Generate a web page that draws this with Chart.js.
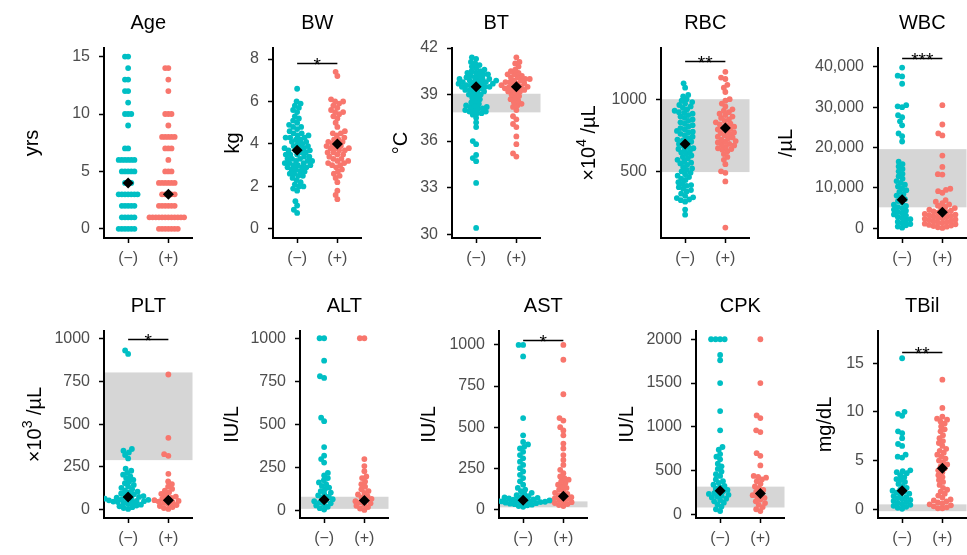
<!DOCTYPE html>
<html>
<head>
<meta charset="utf-8">
<script src="https://cdn.jsdelivr.net/npm/chart.js@4.4.0/dist/chart.umd.min.js"></script>
<style>
  body { margin: 0; background: #fff; }
  #wrap { position: relative; width: 967px; height: 555px; overflow: hidden; }
  #wrap canvas { position: absolute; }
</style>
</head>
<body>
<div id="wrap"></div>
<script>
// values, one array per group
const ageNeg = [0,0,0,0,0,0,1,1,1,1,1,2,2,2,2,2,3,3,3,3,3,3,3,4,4,4,5,5,5,5,5,6,6,6,6,6,6,7,7,9,10,10,10,11,12,12,13,13,14,15,15];
const agePos = [0,0,0,0,0,0,0,1,1,1,1,1,1,1,1,1,1,1,1,2,2,2,2,2,2,3,3,3,3,3,4,4,4,4,4,4,5,5,5,6,7,7,7,8,8,8,8,8,9,10,10,10,12,13,14,14];

const bwNeg = [0.75,0.9,1.1,1.3,1.8,1.9,2.0,2.0,2.1,2.2,2.3,2.4,2.5,2.5,2.6,2.6,2.7,2.7,2.8,2.8,2.9,2.9,2.9,3.0,3.0,3.0,3.1,3.1,3.1,3.2,3.2,3.2,3.3,3.3,3.3,3.4,3.4,3.5,3.5,3.5,3.6,3.6,3.7,3.7,3.7,3.8,3.8,3.8,3.9,3.9,4.0,4.0,4.1,4.1,4.2,4.2,4.3,4.3,4.3,4.4,4.4,4.5,4.5,4.6,4.7,4.8,4.8,4.9,5.0,5.1,5.2,5.3,5.5,5.6,5.7,5.8,5.9,6.0,6.6];
const bwPos = [1.4,1.6,1.8,2.2,2.4,2.5,2.6,2.7,2.8,2.9,3.0,3.0,3.1,3.1,3.2,3.2,3.3,3.3,3.4,3.5,3.5,3.6,3.6,3.7,3.7,3.8,3.8,3.8,3.9,3.9,4.0,4.0,4.1,4.1,4.2,4.2,4.3,4.4,4.5,4.5,4.6,4.8,5.0,5.2,5.3,5.4,5.5,5.5,5.6,5.7,5.8,5.9,6.0,6.0,6.1,7.2,7.4];

const btNeg = [30.4,33.3,34.7,34.9,35.1,35.8,36.0,36.9,37.2,37.5,37.7,37.8,37.8,37.9,37.9,38.0,38.0,38.1,38.1,38.2,38.2,38.3,38.3,38.4,38.5,38.6,38.7,38.8,38.9,39.0,39.0,39.1,39.2,39.2,39.3,39.3,39.4,39.4,39.5,39.5,39.5,39.6,39.6,39.6,39.7,39.7,39.7,39.8,39.8,39.8,39.9,39.9,39.9,40.0,40.0,40.0,40.1,40.1,40.2,40.2,40.3,40.3,40.4,40.4,40.5,40.5,40.6,40.7,40.8,40.9,41.0,41.1,41.3,41.4];
const btPos = [35.0,35.2,35.8,36.3,36.9,37.1,37.4,37.6,38.0,38.2,38.3,38.4,38.5,38.6,38.7,38.8,38.9,39.0,39.1,39.2,39.2,39.3,39.3,39.4,39.4,39.5,39.5,39.5,39.6,39.6,39.7,39.7,39.8,39.8,39.9,39.9,40.0,40.0,40.1,40.1,40.2,40.3,40.3,40.4,40.5,40.6,40.8,41.0,41.1,41.4];

const rbcNeg = [200,235,290,300,305,315,320,330,345,360,370,380,390,400,405,415,425,440,450,460,470,480,490,500,510,520,530,545,555,560,570,580,590,600,610,620,630,640,650,655,660,670,680,690,700,705,715,720,730,740,750,760,770,775,780,790,800,810,820,830,840,850,860,870,880,890,900,905,910,920,930,940,950,960,970,980,990,1000,1020,1030,1080,1110];
const rbcPos = [110,430,490,500,550,580,600,620,640,650,655,660,670,680,685,690,700,705,710,720,730,735,740,750,760,765,770,780,790,795,800,810,820,825,830,840,850,860,870,880,890,900,910,920,930,950,970,990,1000,1050,1080,1100,1140,1150,1190];

const wbcNeg = [150,450,750,1050,1350,1650,1950,2250,2550,2850,3150,3450,3750,4050,4350,4650,4950,5250,5550,5850,6300,6750,7200,7650,8100,8550,9000,9450,9900,10350,10800,11250,11700,12300,12900,13500,14100,14700,15300,15900,16500,21500,22800,23500,25500,26500,27500,28000,30000,30200,30500,35800,37600,37800,39800];
const wbcPos = [100,250,400,550,700,850,1000,1150,1300,1450,1600,1750,1900,2050,2200,2350,2500,2650,2800,2950,3100,3250,3400,3550,3700,3850,4000,4200,4400,4600,4800,5000,5300,5600,5900,6200,6600,7000,8800,9200,9500,9800,13300,13400,15200,18000,23000,23500,25700,30500];

const pltNeg = [5,10,15,20,25,30,34,38,42,45,48,50,52,55,58,60,62,65,68,71,75,80,85,90,95,100,106,112,120,128,136,145,155,165,175,185,195,205,215,228,240,300,320,335,345,355,910,930];
const pltPos = [5,10,16,22,28,34,40,44,48,52,56,60,65,70,77,85,93,102,112,122,135,150,165,210,315,325,420,790];

const altNeg = [8,16,24,32,38,44,50,56,62,68,75,82,90,98,106,115,125,135,145,155,165,178,190,205,220,280,300,320,370,520,540,770,780,870,1000,1000];
const altPos = [6,14,22,30,37,44,50,56,63,70,78,86,95,105,115,125,140,155,170,190,200,230,260,300,1000,1000];

const astNeg = [15,20,24,28,31,34,37,40,42,44,46,48,50,52,54,56,58,60,63,66,69,72,75,80,86,92,100,110,120,130,150,170,190,210,230,250,270,290,310,330,350,370,380,395,410,450,555,930,1000,1000];
const astPos = [20,26,32,38,43,48,53,58,63,68,74,80,86,93,100,110,120,130,140,150,160,170,180,190,200,220,240,270,300,330,370,400,450,480,500,540,555,700,910,1000];

const cpkNeg = [40,60,90,115,135,150,165,180,195,205,215,225,235,245,255,265,280,295,310,325,340,360,380,400,440,460,490,520,550,580,630,660,690,740,770,960,1180,1500,1760,1820,2000,2000,2000,2000];
const cpkPos = [40,60,85,110,130,150,170,190,205,220,240,260,280,300,320,350,380,400,420,430,440,560,670,700,940,960,1100,1130,1500,2000];

const tbilNeg = [0.05,0.15,0.25,0.35,0.45,0.55,0.65,0.75,0.85,0.95,1.05,1.15,1.25,1.35,1.5,1.6,1.7,1.8,1.9,2.0,2.2,2.4,2.6,2.8,3.0,3.1,3.3,3.5,3.7,3.8,3.9,4.0,5.3,5.4,5.6,6.5,6.7,7.3,7.8,8.0,9.6,9.8,10.0,15.5];
const tbilPos = [0.1,0.1,0.2,0.3,0.4,0.5,0.6,0.7,0.8,0.9,1.0,1.2,1.4,1.6,1.8,2.0,2.2,2.5,2.8,3.0,3.3,3.5,3.8,4.0,4.2,4.4,4.6,4.8,5.0,5.2,5.4,5.6,5.8,6.0,6.2,6.5,6.8,7.0,7.3,7.6,8.0,8.2,8.5,8.8,9.0,9.2,9.3,9.5,10.4,13.3];

const panelTitles = ["Age", "BW", "BT", "RBC", "WBC", "PLT", "ALT", "AST", "CPK", "TBil"];
const groupLabels = ["(−)", "(+)"];
// unit text: [main, superscript, rest]
const unitParts = [["yrs"], ["kg"], ["°C"], ["×10", "4", " /µL"], ["/µL"], ["×10", "3", " /µL"], ["IU/L"], ["IU/L"], ["IU/L"], ["mg/dL"]];
const negValues = [ageNeg, bwNeg, btNeg, rbcNeg, wbcNeg, pltNeg, altNeg, astNeg, cpkNeg, tbilNeg];
const posValues = [agePos, bwPos, btPos, rbcPos, wbcPos, pltPos, altPos, astPos, cpkPos, tbilPos];
const negCenter = [4, 3.7, 39.5, 690, 7100, 75, 65, 55, 270, 1.9];
const posCenter = [3, 4.0, 39.5, 800, 4000, 55, 60, 80, 240, 4.2];
const bandLow = [null, null, 37.85, 495, 5200, 290, 12, 12, 80, -0.2];
const bandHigh = [null, null, 39.05, 1000, 19600, 802, 82, 48, 318, 0.5];
const sigY = [null, 7.83, null, 1264, 42200, 1000, null, 1030, null, 16.1];
const sigStars = ["", "*", "", "**", "***", "*", "", "*", "", "**"];
const yTicks = [[0,5,10,15], [0,2,4,6,8], [30,33,36,39,42], [500,1000], [0,10000,20000,30000,40000],
  [0,250,500,750,1000], [0,250,500,750,1000], [0,250,500,750,1000], [0,500,1000,1500,2000], [0,5,10,15]];
const yMin = [-0.8, -0.43, 29.75, 38, -2400, -48, -41, -53, -40, -0.9];
const yMax = [15.75, 8.52, 42.0, 1355, 44650, 1044, 1042, 1085, 2094, 18.3];

// layout of the panels (pixels)
const panelLeft = [104, 273, 452, 661, 878, 104, 300, 499, 696, 878];
const yTitleOffset = [-72, -40, -51, -72, -92, -69, -68, -70, -69, -53];
const swarmGap = [3.2, 4.6, 4.6, 4.6, 4.6, 4.6, 4.6, 4.6, 4.6, 4.6];
const PW = 90;       // plot width
const YW = 100;      // room left of the plot
const TOPPAD = 48;   // room above the plot
const XH = 40;       // room under the plot

const FONT = "'Liberation Sans', Arial, sans-serif";
const TEAL = "#00BFC4";
const SALMON = "#F8766D";

// beeswarm offsets (pixels) so the dots do not pile up
function swarmOffsets(values, pxPerY, gap) {
  const order = values.map((v, i) => i).sort((a, b) => values[a] - values[b]);
  const placed = [];
  const offsets = new Array(values.length).fill(0);
  order.forEach((i) => {
    const py = values[i] * pxPerY;
    const near = placed.filter((q) => Math.abs(q.y - py) < gap);
    const cands = [0];
    near.forEach((q) => {
      const dx = Math.sqrt(gap * gap - (q.y - py) ** 2);
      cands.push(q.x - dx, q.x + dx);
    });
    cands.sort((a, b) => Math.abs(a) - Math.abs(b));
    const px = cands.find((c) => near.every((q) => (q.x - c) ** 2 + (q.y - py) ** 2 >= gap * gap - 0.01));
    placed.push({ x: px, y: py });
    offsets[i] = px;
  });
  return offsets;
}

function drawUnit(ctx, parts, x, y) {
  ctx.save();
  ctx.translate(x, y);
  ctx.rotate(-Math.PI / 2);
  ctx.fillStyle = "#000";
  ctx.textBaseline = "middle";
  ctx.textAlign = "left";
  const big = "20px " + FONT;
  const small = "14px " + FONT;
  const fonts = parts.map((p, i) => (i === 1 ? small : big));
  let total = 0;
  parts.forEach((p, i) => { ctx.font = fonts[i]; total += ctx.measureText(p).width; });
  let cx = -total / 2;
  parts.forEach((p, i) => {
    ctx.font = fonts[i];
    ctx.fillText(p, cx, i === 1 ? -7 : 0);
    cx += ctx.measureText(p).width;
  });
  ctx.restore();
}

const wrap = document.getElementById("wrap");

panelTitles.forEach((title, k) => {
  const row = k < 5 ? 0 : 1;
  const T = row === 0 ? 48 : 331;
  const B = row === 0 ? 238 : 518;
  const L = panelLeft[k];
  const W = YW + PW + 4;
  const H = TOPPAD + (B - T) + XH;

  const canvas = document.createElement("canvas");
  canvas.width = W;
  canvas.height = H;
  canvas.style.left = (L - YW) + "px";
  canvas.style.top = (T - TOPPAD) + "px";
  canvas.style.width = W + "px";
  canvas.style.height = H + "px";
  wrap.appendChild(canvas);

  const pxPerY = (B - T) / (yMax[k] - yMin[k]);
  const pxPerX = PW / 2.2;
  const toPoints = (vals, cat) => {
    const off = swarmOffsets(vals, pxPerY, swarmGap[k]);
    return vals.map((v, i) => ({ x: cat + off[i] / pxPerX, y: v }));
  };

  const decor = {
    id: "decor" + k,
    beforeDatasetsDraw(chart) {
      if (bandLow[k] === null) return;
      const { ctx, chartArea: a, scales } = chart;
      const yTop = scales.y.getPixelForValue(bandHigh[k]);
      const yBot = scales.y.getPixelForValue(bandLow[k]);
      ctx.save();
      ctx.fillStyle = "#D6D6D6";
      ctx.fillRect(a.left + 1, yTop, a.right - a.left - 1, yBot - yTop);
      ctx.restore();
    },
    afterDatasetsDraw(chart) {
      const { ctx, scales } = chart;
      if (sigY[k] !== null) {
        const y = Math.round(scales.y.getPixelForValue(sigY[k])) + 0.5;
        const x1 = scales.x.getPixelForValue(1);
        const x2 = scales.x.getPixelForValue(2);
        ctx.save();
        ctx.strokeStyle = "#000";
        ctx.lineWidth = 1.3;
        ctx.beginPath();
        ctx.moveTo(x1, y);
        ctx.lineTo(x2, y);
        ctx.stroke();
        ctx.fillStyle = "#000";
        ctx.font = "19px " + FONT;
        ctx.textAlign = "center";
        ctx.textBaseline = "alphabetic";
        ctx.fillText(sigStars[k], (x1 + x2) / 2, y + 7.5);
        ctx.restore();
      }
    },
    afterDraw(chart) {
      const { ctx, chartArea: a } = chart;
      ctx.save();
      ctx.fillStyle = "#000";
      ctx.font = "20px " + FONT;
      ctx.textAlign = "center";
      ctx.textBaseline = "middle";
      ctx.fillText(title, (a.left + a.right) / 2, a.top - 25);
      ctx.restore();
      drawUnit(ctx, unitParts[k], a.left + yTitleOffset[k], (a.top + a.bottom) / 2);
    },
  };

  const axisGrid = { drawOnChartArea: false, drawTicks: true, tickLength: 5, tickColor: "#000", tickWidth: 1.5 };
  const axisBorder = { display: true, color: "#000", width: 2 };

  new Chart(canvas, {
    type: "scatter",
    data: {
      datasets: [
        {
          data: [{ x: 1, y: negCenter[k] }, { x: 2, y: posCenter[k] }],
          pointStyle: "rectRot",
          pointRadius: 5.5,
          backgroundColor: "#000",
          borderWidth: 0,
        },
        {
          data: toPoints(negValues[k], 1),
          pointRadius: 2.9,
          backgroundColor: TEAL,
          borderWidth: 0,
        },
        {
          data: toPoints(posValues[k], 2),
          pointRadius: 2.9,
          backgroundColor: SALMON,
          borderWidth: 0,
        },
      ],
    },
    options: {
      responsive: false,
      animation: false,
      events: [],
      layout: { padding: { top: TOPPAD, right: 4, left: 0, bottom: 0 } },
      plugins: { legend: { display: false }, tooltip: { enabled: false }, title: { display: false } },
      scales: {
        x: {
          type: "linear",
          min: 0.4,
          max: 2.6,
          afterFit: (s) => { s.height = XH; },
          afterBuildTicks: (s) => { s.ticks = [{ value: 1 }, { value: 2 }]; },
          ticks: {
            callback: (v) => groupLabels[v - 1],
            color: "#4D4D4D",
            font: { size: 16, family: FONT },
            padding: 6,
            maxRotation: 0,
            autoSkip: false,
          },
          grid: axisGrid,
          border: axisBorder,
        },
        y: {
          min: yMin[k],
          max: yMax[k],
          afterFit: (s) => { s.width = YW; },
          afterBuildTicks: (s) => { s.ticks = yTicks[k].map((v) => ({ value: v })); },
          ticks: {
            callback: (v) => (k === 4 ? v.toLocaleString("en-US") : String(v)),
            color: "#4D4D4D",
            font: { size: 16, family: FONT },
            padding: 9,
            autoSkip: false,
          },
          grid: axisGrid,
          border: axisBorder,
        },
      },
    },
    plugins: [decor],
  });
});
</script>
</body>
</html>
